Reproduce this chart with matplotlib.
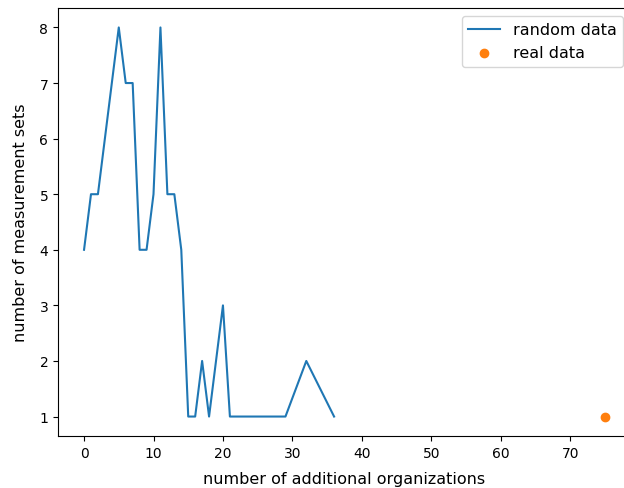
import matplotlib
matplotlib.use("Agg")
import matplotlib.pyplot as plt

# measurement-set counts per number of additional organizations
random_orgs = [0, 1, 2, 3, 4, 5, 6, 7, 8, 9, 10, 11, 12, 13, 14, 15, 16, 17, 18, 19, 20, 21, 29, 32, 36]
random_counts = [4, 5, 5, 6, 7, 8, 7, 7, 4, 4, 5, 8, 5, 5, 4, 1, 1, 2, 1, 2, 3, 1, 1, 2, 1]

real_orgs = [75]
real_counts = [1]

W, H = 624, 489
fig = plt.figure(figsize=(W / 100, H / 100), dpi=100)
# the plot area runs slightly past the right edge of the canvas
ax = fig.add_axes([58 / W, (H - 437) / H, 573 / W, 428 / H])
ax.spines["right"].set_visible(False)

ax.plot(random_orgs, random_counts, label="random data")
ax.scatter(real_orgs, real_counts, color="C1", label="real data")
ax.set_xlabel("number of additional organizations", fontsize=11.5, labelpad=8)
ax.set_ylabel("number of measurement sets", fontsize=11.5, labelpad=8)
ax.legend(loc="upper right", fontsize=11.5)

fig.savefig("out.png", dpi=100)
